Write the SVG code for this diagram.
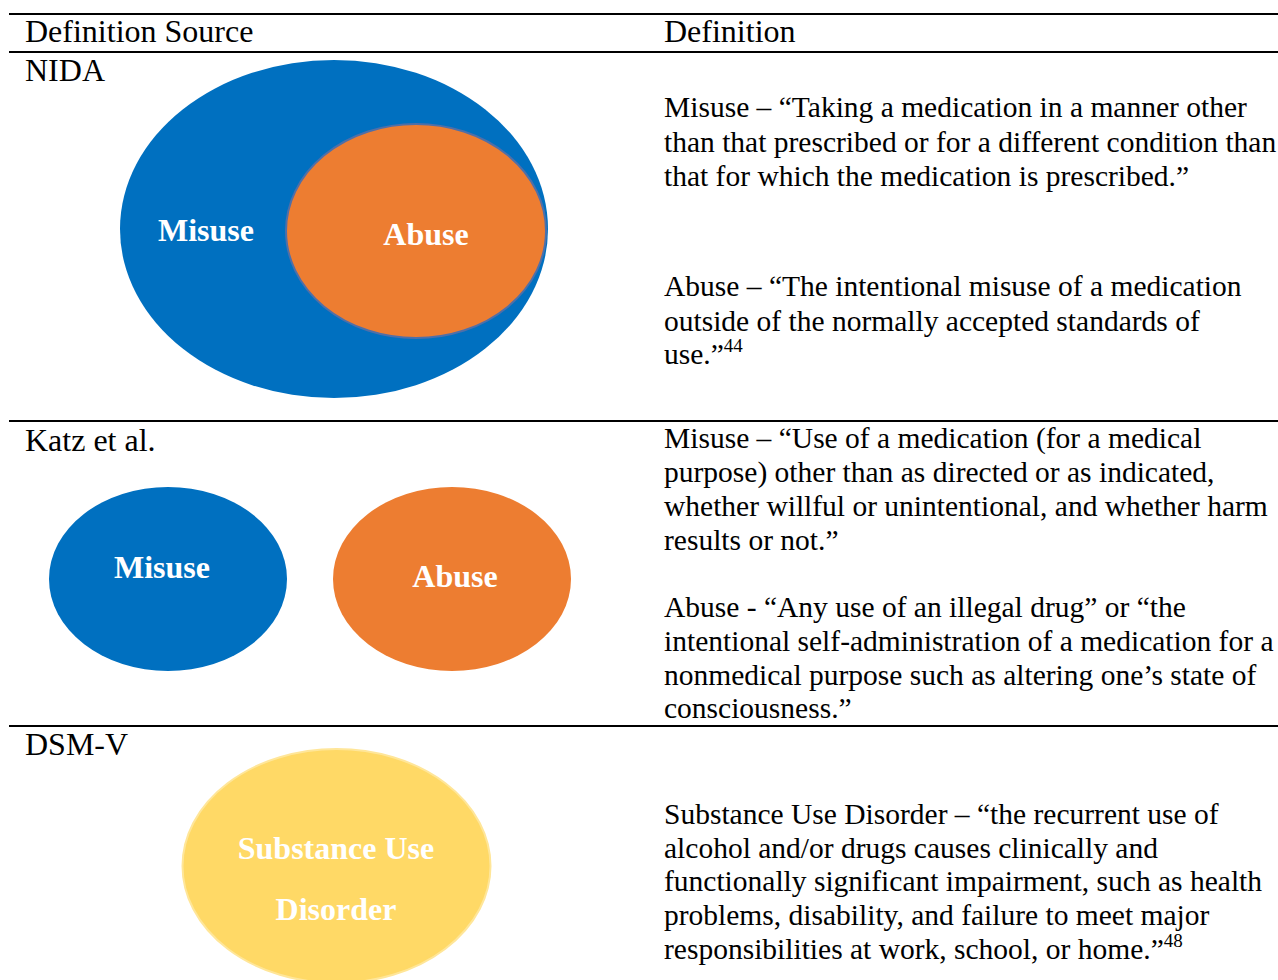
<svg xmlns="http://www.w3.org/2000/svg" width="1278" height="980" viewBox="0 0 1278 980">
<style>
.t{font-family:"Liberation Serif","Times New Roman",serif;font-size:29.5px;fill:#000}
.h{font-size:32px}
.sup{font-size:19px}
.lbl{font-family:"Liberation Serif","Times New Roman",serif;font-size:32px;font-weight:bold;fill:#fff;text-anchor:middle}
.rule{stroke:#000;stroke-width:2.2}
</style>
<rect width="1278" height="980" fill="#fff"/>
<g id="rules">
<line class="rule" x1="9" y1="14" x2="1278" y2="14"/>
<line class="rule" x1="9" y1="52" x2="1278" y2="52"/>
<line class="rule" x1="9" y1="421" x2="1278" y2="421"/>
<line class="rule" x1="9" y1="726" x2="1278" y2="726"/>
</g>
<g id="header">
<text class="t h" x="25" y="42">Definition Source</text>
<text class="t h" x="664" y="42">Definition</text>
</g>
<g id="nida-diagram">
<text class="t h" x="25" y="81">NIDA</text>
<ellipse cx="334" cy="229" rx="214" ry="169" fill="#0070C0"/>
<ellipse cx="416" cy="231" rx="130" ry="107" fill="#ED7D31" stroke="#4F6FA8" stroke-width="2"/>
<text class="lbl" x="206" y="241">Misuse</text>
<text class="lbl" x="426" y="245">Abuse</text>
</g>
<g id="nida-text">
<text class="t" x="664" y="117">Misuse – “Taking a medication in a manner other</text>
<text class="t" x="664" y="152">than that prescribed or for a different condition than</text>
<text class="t" x="664" y="186">that for which the medication is prescribed.”</text>
<text class="t" x="664" y="296">Abuse – “The intentional misuse of a medication</text>
<text class="t" x="664" y="331">outside of the normally accepted standards of</text>
<text class="t" x="664" y="364">use.”<tspan class="sup" dy="-12">44</tspan></text>
</g>
<g id="katz-diagram">
<text class="t h" x="25" y="451">Katz et al.</text>
<ellipse cx="168" cy="579" rx="119" ry="92" fill="#0070C0"/>
<ellipse cx="452" cy="579" rx="119" ry="92" fill="#ED7D31"/>
<text class="lbl" x="162" y="578">Misuse</text>
<text class="lbl" x="455" y="587">Abuse</text>
</g>
<g id="katz-text">
<text class="t" x="664" y="448">Misuse – “Use of a medication (for a medical</text>
<text class="t" x="664" y="482">purpose) other than as directed or as indicated,</text>
<text class="t" x="664" y="516">whether willful or unintentional, and whether harm</text>
<text class="t" x="664" y="550">results or not.”</text>
<text class="t" x="664" y="617">Abuse - “Any use of an illegal drug” or “the</text>
<text class="t" x="664" y="651">intentional self-administration of a medication for a</text>
<text class="t" x="664" y="685">nonmedical purpose such as altering one’s state of</text>
<text class="t" x="664" y="718">consciousness.”</text>
</g>
<g id="dsm-diagram">
<text class="t h" x="25" y="755">DSM-V</text>
<ellipse cx="336.5" cy="866" rx="154" ry="117" fill="#FFD966" stroke="#FFE699" stroke-width="2"/>
<text class="lbl" x="336" y="859">Substance Use</text>
<text class="lbl" x="336" y="920">Disorder</text>
</g>
<g id="dsm-text">
<text class="t" x="664" y="824">Substance Use Disorder – “the recurrent use of</text>
<text class="t" x="664" y="858">alcohol and/or drugs causes clinically and</text>
<text class="t" x="664" y="891">functionally significant impairment, such as health</text>
<text class="t" x="664" y="925">problems, disability, and failure to meet major</text>
<text class="t" x="664" y="959">responsibilities at work, school, or home.”<tspan class="sup" dy="-12">48</tspan></text>
</g>
</svg>
